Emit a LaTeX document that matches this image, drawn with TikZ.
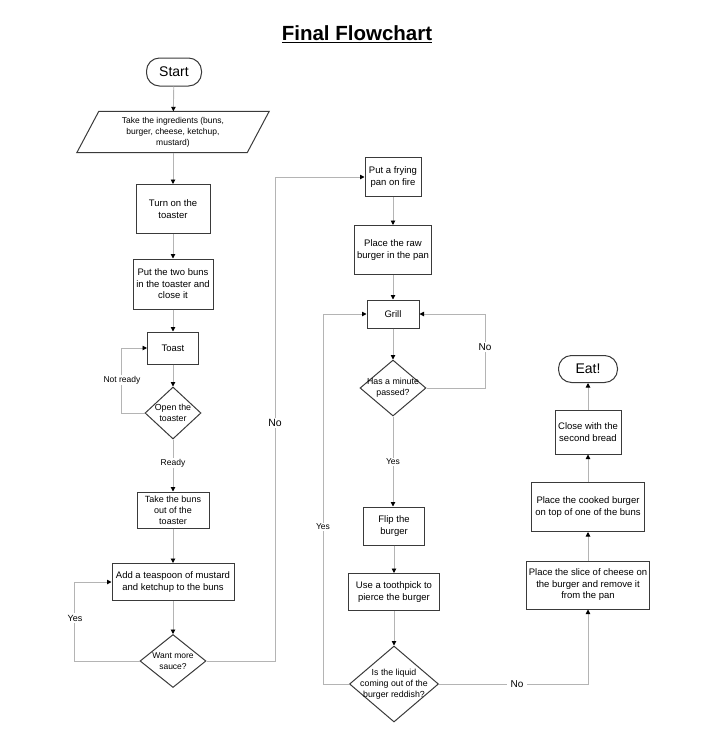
\documentclass[tikz,border=0pt]{standalone}
\usepackage{fontspec}
\setmainfont{Liberation Sans}
\usetikzlibrary{arrows.meta,shapes.geometric}
\definecolor{boxgray}{HTML}{3A3A3A}
\definecolor{linegray}{HTML}{B4B4B4}
\begin{document}
\begin{tikzpicture}[x=1pt,y=-1pt,
  box/.style={draw=boxgray,line width=1pt,align=center,inner sep=0pt,font=\fontsize{9.5}{11.5}\selectfont},
  term/.style={box,rounded corners=13pt,font=\fontsize{14}{16}\selectfont},
  dia/.style={draw=boxgray,line width=1pt,shape=diamond,inner sep=0pt},
  diatext/.style={align=center,font=\fontsize{8.8}{11}\selectfont},
  arr/.style={draw=linegray,line width=0.9pt,-{Triangle[length=4.5pt,width=4.5pt,color=black]}},
  lbl/.style={fill=white,inner sep=1.5pt,font=\fontsize{8.5}{10}\selectfont},
  lblbig/.style={fill=white,inner sep=1.5pt,font=\fontsize{10.5}{12}\selectfont}
]
\useasboundingbox (0,0) rectangle (703,742);
\node[font=\bfseries\fontsize{20.5}{24}\selectfont] (title) at (357,34) {\underline{Final Flowchart}};

% left column
\node[term,minimum width=55pt,minimum height=28pt] (start) at (174,72) {Start};
\node[align=center,inner sep=0pt,minimum width=170pt,minimum height=41pt,font=\fontsize{8.5}{11}\selectfont] (ingr) at (173,132) {Take the ingredients (buns,\\burger, cheese, ketchup,\\mustard)};
\draw[boxgray,line width=1pt] ([xshift=-11pt]ingr.south west) -- ([xshift=11pt]ingr.north west) -- ([xshift=11pt]ingr.north east) -- ([xshift=-11pt]ingr.south east) -- cycle;
\node[box,minimum width=74pt,minimum height=49pt] (turn) at (173,209) {Turn on the\\toaster};
\node[box,minimum width=80pt,minimum height=50pt] (buns) at (173,284) {Put the two buns\\in the toaster and\\close it};
\node[box,minimum width=51pt,minimum height=32pt] (toast) at (173,348) {Toast};
\node[dia,minimum width=56pt,minimum height=52pt,label={[diatext]center:Open the\\toaster}] (open) at (173,413) {};
\node[box,minimum width=72pt,minimum height=36pt,font=\fontsize{9}{11}\selectfont] (takeout) at (173,510) {Take the buns\\out of the\\toaster};
\node[box,minimum width=122pt,minimum height=37pt] (sauce) at (173,582) {Add a teaspoon of mustard\\and ketchup to the buns};
\node[dia,minimum width=66pt,minimum height=53pt,label={[diatext,font=\fontsize{8.5}{10.5}\selectfont]center:Want more\\sauce?}] (more) at (173,661) {};

% middle column
\node[box,minimum width=56pt,minimum height=39pt] (pan) at (393,177) {Put a frying\\pan on fire};
\node[box,minimum width=77pt,minimum height=49pt] (raw) at (393,250) {Place the raw\\burger in the pan};
\node[box,minimum width=52pt,minimum height=28pt] (grill) at (393,314) {Grill};
\node[dia,minimum width=66pt,minimum height=56pt,label={[diatext]center:Has a minute\\passed?}] (minute) at (393,388) {};
\node[box,minimum width=61pt,minimum height=38pt] (flip) at (394,526) {Flip the\\burger};
\node[box,minimum width=91pt,minimum height=37pt] (tooth) at (394,592) {Use a toothpick to\\pierce the burger};
\node[dia,minimum width=89pt,minimum height=76pt,label={[diatext]center:Is the liquid\\coming out of the\\burger reddish?}] (liquid) at (394,684) {};

% right column
\node[box,minimum width=123pt,minimum height=48pt] (cheese) at (588,585) {Place the slice of cheese on\\the burger and remove it\\from the pan};
\node[box,minimum width=113pt,minimum height=49pt] (cooked) at (588,507) {Place the cooked burger\\on top of one of the buns};
\node[box,minimum width=66pt,minimum height=44pt] (close) at (588,432) {Close with the\\second bread};
\node[term,minimum width=59pt,minimum height=27pt] (eat) at (588,369) {Eat!};

% connectors left
\draw[arr] (start) -- (ingr);
\draw[arr] (ingr) -- (turn);
\draw[arr] (turn) -- (buns);
\draw[arr] (buns) -- (toast);
\draw[arr] (toast) -- (open.north);
\draw[arr] (open.south) -- (takeout);
\node[lbl] (lready) at (173,463) {Ready};
\draw[arr] (open.west) -- ++(-23,0) |- (toast.west);
\node[lbl] (lnotready) at (122,380) {Not ready};
\draw[arr] (takeout) -- (sauce);
\draw[arr] (sauce) -- (more.north);
\draw[arr] (more.west) -- ++(-65,0) |- (sauce.west);
\node[lbl,font=\fontsize{9}{10}\selectfont] (lyes1) at (75,618) {Yes};
\draw[arr] (more.east) -- (275,661) |- (pan.west);
\node[lblbig] (lno1) at (275,423) {No};

% connectors middle
\draw[arr] (pan) -- (raw);
\draw[arr] (raw) -- (grill);
\draw[arr] (grill) -- (minute.north);
\draw[arr] (minute.east) -- (485,388) |- (grill.east);
\node[lblbig,font=\fontsize{10}{12}\selectfont] (lno2) at (485,347) {No};
\draw[arr] (minute.south) -- (minute.south |- flip.north);
\node[lbl] (lyes2) at (393,462) {Yes};
\draw[arr] (flip) -- (tooth);
\draw[arr] (tooth) -- (liquid.north);
\draw[arr] (liquid.west) -- (323,684) |- (grill.west);
\node[lbl] (lyes3) at (323,527) {Yes};
\draw[arr] (liquid.east) -| (cheese.south);
\node[lblbig,font=\fontsize{10}{12}\selectfont,inner sep=4pt] (lno3) at (517,684) {No};

% connectors right
\draw[arr] (cheese) -- (cooked);
\draw[arr] (cooked) -- (close);
\draw[arr] (close) -- (eat);
\end{tikzpicture}
\end{document}
